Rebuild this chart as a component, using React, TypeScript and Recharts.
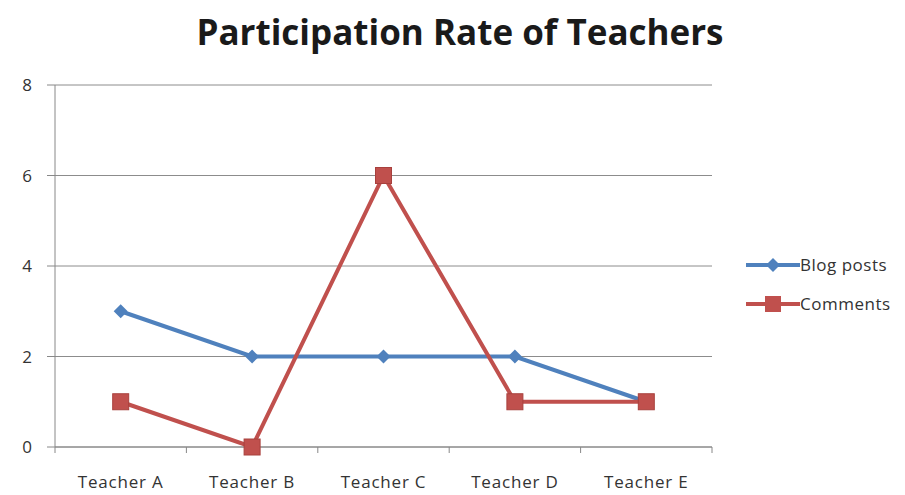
import { LineChart, Line, XAxis, YAxis, CartesianGrid } from "recharts";

const teachers = ["Teacher A", "Teacher B", "Teacher C", "Teacher D", "Teacher E"];
const blogPosts = [3, 2, 2, 2, 1];
const comments = [1, 0, 6, 1, 1];
const yTicks = [0, 2, 4, 6, 8];

const data = teachers.map((name, i) => ({ name, blog: blogPosts[i], comments: comments[i] }));

const BLUE = "#4F81BD";
const RED = "#C0504D";
const FONT = "'Open Sans', 'Noto Sans', sans-serif";

const Diamond = (props: any) => {
  const { cx, cy, fill, size = 7 } = props;
  if (cx == null || cy == null) return null;
  return <path d={`M${cx},${cy - size}L${cx + size},${cy}L${cx},${cy + size}L${cx - size},${cy}Z`} fill={fill} />;
};

const Square = (props: any) => {
  const { cx, cy, fill, size = 8 } = props;
  if (cx == null || cy == null) return null;
  return <rect x={cx - size} y={cy - size} width={size * 2} height={size * 2} fill={fill} stroke="#a8403d" strokeWidth={1} />;
};

const XTick = (props: any) => {
  const { x, y, payload, index } = props;
  const half = 657 / teachers.length / 2;
  return (
    <g>
      <line x1={x - half} y1={y - 40} x2={x - half} y2={y - 34} stroke="#888" />
      {index === teachers.length - 1 && <line x1={x + half} y1={y - 40} x2={x + half} y2={y - 34} stroke="#888" />}
      <text x={x} y={y} dy={1} textAnchor="middle" fontSize={17} letterSpacing={0.8} fill="#333" fontFamily={FONT}>
        {payload.value}
      </text>
    </g>
  );
};

const legendItems = [
  { label: "Blog posts", color: BLUE, square: false },
  { label: "Comments", color: RED, square: true },
];

export default function App() {
  return (
    <div style={{ position: "absolute", left: 0, top: 0, width: 905, height: 495, background: "#fff" }}>
      <div
        style={{
          position: "absolute",
          top: 8,
          left: 0,
          width: 920,
          textAlign: "center",
          fontFamily: FONT,
          fontWeight: 700,
          fontSize: 35,
          color: "#1a1a1a",
        }}
      >
        Participation Rate of Teachers
      </div>
      <LineChart
        width={905}
        height={495}
        data={data}
        margin={{ top: 85, right: 193, left: 15, bottom: 18 }}
        style={{ overflow: "visible" }}
      >
        <CartesianGrid vertical={false} stroke="#8c8c8c" strokeWidth={1} />
        <XAxis
          dataKey="name"
          scale="band"
          axisLine={{ stroke: "#888" }}
          tickLine={false}
          tick={<XTick />}
          tickMargin={34}
          interval={0}
        />
        <YAxis
          domain={[0, 8]}
          ticks={yTicks}
          width={40}
          axisLine={{ stroke: "#888" }}
          tickLine={{ stroke: "#888" }}
          tickSize={8}
          tickMargin={15}
          tick={{ fontSize: 17, fill: "#333", fontFamily: FONT }}
        />
        <Line
          dataKey="blog"
          stroke={BLUE}
          strokeWidth={4}
          dot={<Diamond fill={BLUE} />}
          activeDot={false}
          isAnimationActive={false}
        />
        <Line
          dataKey="comments"
          stroke={RED}
          strokeWidth={4}
          dot={<Square fill={RED} />}
          activeDot={false}
          isAnimationActive={false}
        />
      </LineChart>
      <div style={{ position: "absolute", left: 746, top: 245, fontFamily: FONT, fontSize: 17, letterSpacing: 0.5, color: "#333" }}>
        {legendItems.map((it) => (
          <div key={it.label} style={{ display: "flex", alignItems: "center", height: 39 }}>
            <svg width={54} height={18}>
              <line x1={0} y1={9} x2={54} y2={9} stroke={it.color} strokeWidth={4} />
              {it.square ? (
                <rect x={19} y={1} width={16} height={16} fill={it.color} />
              ) : (
                <path d="M27,2L34,9L27,16L20,9Z" fill={it.color} />
              )}
            </svg>
            <span>{it.label}</span>
          </div>
        ))}
      </div>
    </div>
  );
}
